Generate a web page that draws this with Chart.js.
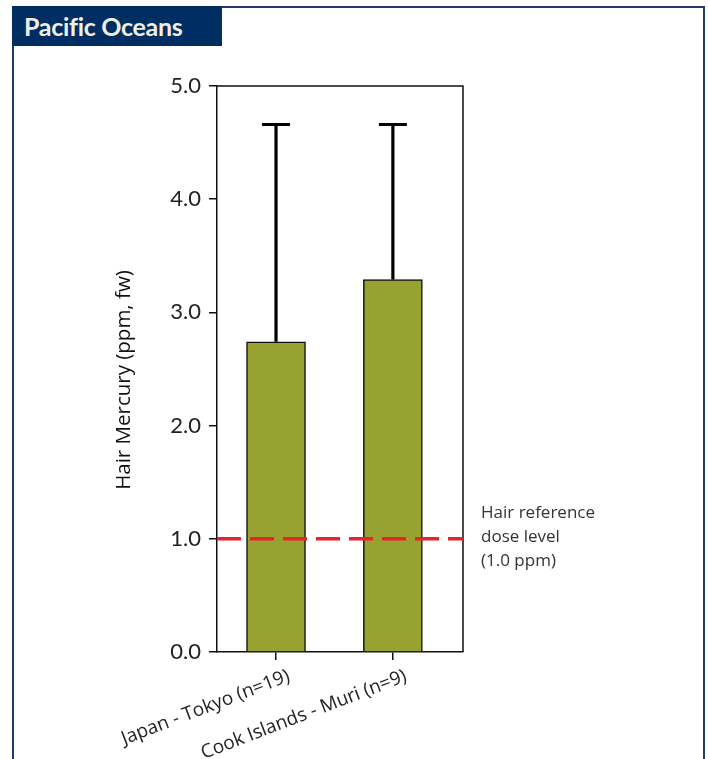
<!DOCTYPE html>
<html>
<head>
<meta charset="utf-8">
<script src="https://cdn.jsdelivr.net/npm/chart.js@4.4.1/dist/chart.umd.min.js"></script>
<style>
  html, body { margin: 0; padding: 0; background: #fff; }
  #wrap { position: relative; width: 708px; height: 759px; overflow: hidden; }
  #frame {
    position: absolute; left: 12px; top: 6px; width: 689px; height: 780px;
    border-top: 2px solid #1d3c70; border-left: 2px solid #1d3c70; border-right: 2px solid #1d3c70;
  }
  #title {
    position: absolute; left: 12px; top: 6px; width: 210px; height: 40px;
    background: #002d62; color: #f1efe2;
    font: bold 25px "Lato", sans-serif; line-height: 40px; padding-left: 12px; box-sizing: border-box;
    letter-spacing: -0.3px;
  }
  canvas { position: absolute; left: 0; top: 0; }
</style>
</head>
<body>
<div id="wrap">
  <div id="frame"></div>
  <div id="title">Pacific Oceans</div>
  <canvas id="c" width="708" height="759"></canvas>
</div>
<script>
const categories = ["Japan - Tokyo (n=19)", "Cook Islands - Muri (n=9)"];
const meanValues = [2.74, 3.29];
const errorTops = [4.66, 4.66];
const referenceDose = 1.0;
const referenceLabel = ["Hair reference", "dose level", "(1.0 ppm)"];
const yTitle = "Hair Mercury (ppm, fw)";

const extras = {
  id: "extras",
  afterDatasetsDraw(chart) {
    const { ctx, chartArea: a, scales: { x, y } } = chart;
    ctx.save();
    // frame around plot
    ctx.strokeStyle = "#111";
    ctx.lineWidth = 1.5;
    ctx.beginPath();
    ctx.moveTo(a.left, a.top);
    ctx.lineTo(a.right, a.top);
    ctx.lineTo(a.right, a.bottom);
    ctx.stroke();

    // error bars (upper only)
    ctx.lineWidth = 3.2;
    ctx.strokeStyle = "#000";
    meanValues.forEach((v, i) => {
      const px = x.getPixelForValue(i);
      const y0 = y.getPixelForValue(v);
      const y1 = y.getPixelForValue(errorTops[i]);
      ctx.beginPath();
      ctx.moveTo(px, y0);
      ctx.lineTo(px, y1);
      ctx.moveTo(px - 14, y1);
      ctx.lineTo(px + 14, y1);
      ctx.stroke();
    });

    // reference dose line
    const ry = y.getPixelForValue(referenceDose);
    ctx.strokeStyle = "#e8232b";
    ctx.lineWidth = 3.5;
    ctx.setLineDash([24, 9]);
    ctx.beginPath();
    ctx.moveTo(a.left, ry);
    ctx.lineTo(a.right, ry);
    ctx.stroke();
    ctx.setLineDash([]);

    // reference label
    ctx.fillStyle = "#333";
    ctx.font = "17px 'Open Sans', sans-serif";
    ctx.textAlign = "left";
    ctx.textBaseline = "middle";
    referenceLabel.forEach((t, k) => ctx.fillText(t, a.right + 18, ry - 26 + k * 24));

    // y title
    ctx.save();
    ctx.translate(124, 380);
    ctx.rotate(-Math.PI / 2);
    ctx.textAlign = "center";
    ctx.fillStyle = "#111";
    ctx.font = "20.5px 'Open Sans', sans-serif";
    ctx.fillText(yTitle, 0, 0);
    ctx.restore();
    ctx.restore();
  }
};

new Chart(document.getElementById("c"), {
  type: "bar",
  data: {
    datasets: [{
      data: meanValues.map((v, i) => ({ x: i, y: v })),
      backgroundColor: "#98a230",
      borderColor: "#111",
      borderWidth: 1.5,
      barThickness: 59
    }]
  },
  options: {
    responsive: false,
    animation: false,
    layout: { padding: { left: 0, top: 86, right: 245, bottom: 0 } },
    plugins: { legend: { display: false }, tooltip: { enabled: false } },
    scales: {
      x: {
        type: "linear",
        offset: false,
        min: -0.505,
        max: 1.6,
        afterBuildTicks(s) { s.ticks = categories.map((c, i) => ({ value: i })); },
        afterFit(s) { s.height = 107; },
        border: { color: "#111", width: 1.5 },
        grid: { offset: false, drawOnChartArea: false, tickLength: 8, color: "#111", lineWidth: 1.5 },
        ticks: {
          callback: (v) => categories[v],
          minRotation: 21,
          maxRotation: 21,
          color: "#222",
          font: { size: 19, family: "'Open Sans', sans-serif" },
          padding: 5,
          labelOffset: 13
        }
      },
      y: {
        min: 0,
        max: 5,
        afterFit(s) { s.width = 217; },
        border: { color: "#111", width: 1.5 },
        grid: { drawOnChartArea: false, tickLength: 8, color: "#111", lineWidth: 1.5 },
        ticks: {
          stepSize: 1,
          callback: (v) => v.toFixed(1),
          color: "#222",
          font: { size: 22, family: "Lato, sans-serif" },
          padding: 8
        }
      }
    }
  },
  plugins: [extras]
});
</script>
</body>
</html>
